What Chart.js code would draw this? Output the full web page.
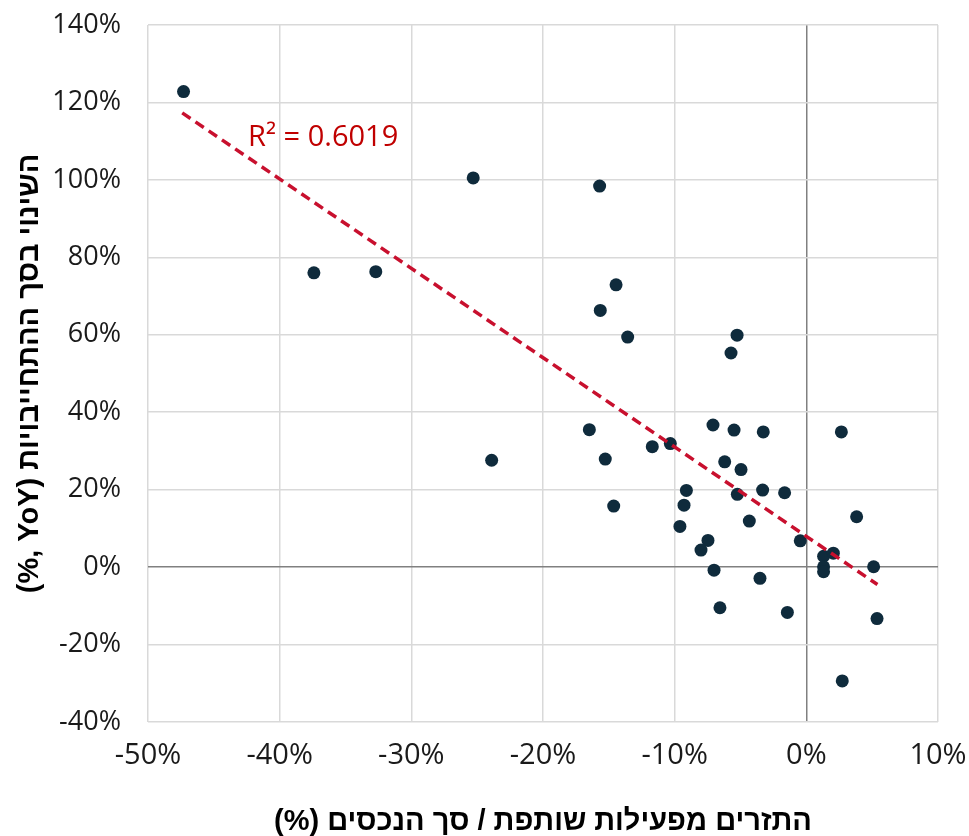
<!DOCTYPE html>
<html>
<head>
<meta charset="utf-8">
<script src="https://cdn.jsdelivr.net/npm/chart.js@4.4.0/dist/chart.umd.min.js"></script>
<style>
  html, body { margin: 0; padding: 0; background: #fff; }
  #wrap { width: 969px; height: 836px; position: relative; }
</style>
</head>
<body>
<div id="wrap"><canvas id="scatterChart"></canvas></div>
<script>
// Data (both axes in %)
const flowToAssets = [
    -47.3, -37.4, -32.7, -25.3, -23.9, -15.7, -14.45, -15.65, -13.57, -5.26, -5.72,
    -16.48, -15.27, -14.63, -11.7, -10.33, -7.09, -5.49, -3.27, -6.2, -4.96,
    -9.11, -9.29, -9.6, -5.24, -3.32, -1.65, -4.33, -7.47, -8.0, -0.46,
    -7.01, -3.52, -6.56, -1.44, 2.66, 3.82, 1.31, 2.05, 1.31, 1.31, 5.11, 5.37, 2.73
];
const liabilitiesChange = [
    122.8, 76.0, 76.3, 100.5, 27.6, 98.4, 72.9, 66.3, 59.4, 59.9, 55.3,
    35.5, 27.9, 15.75, 31.1, 31.9, 36.7, 35.4, 34.9, 27.2, 25.2,
    19.8, 16.0, 10.5, 18.8, 19.9, 19.2, 11.9, 6.9, 4.4, 6.8,
    -0.8, -2.9, -10.5, -11.7, 34.9, 13.0, 2.8, 3.6, 0.1, -1.2, 0.1, -13.3, -29.4
];

// Excel linear trendline, end points
const trendX = [-47.4, 5.4];
const trendY = [117.3, -4.5];
const rSquaredText = 'R² = 0.6019';
const rSquaredAt = [-42.4, 110.8];

const xTicks = [-50, -40, -30, -20, -10, 0, 10];
const yTicks = [-40, -20, 0, 20, 40, 60, 80, 100, 120, 140];

const xTitle = 'התזרים מפעילות שותפת / סך הנכסים (%)';
const yTitle = 'השינוי בסך ההתחייבויות (YoY ,%)';

// wrap Hebrew titles in an RTL embedding so the brackets land on the right side
const rtl = (s) => '\u202B' + s + '\u202C';

const points = flowToAssets.map((x, i) => ({ x: x, y: liabilitiesChange[i] }));
const trendPoints = trendX.map((x, i) => ({ x: x, y: trendY[i] }));

const gridColor = (ctx) => (ctx.tick && ctx.tick.value === 0 ? '#808080' : '#d9d9d9');

// draws the R² label at a data position
const r2Label = {
    id: 'r2Label',
    afterDatasetsDraw(chart) {
        const { ctx, scales } = chart;
        ctx.save();
        ctx.font = '29px "Open Sans", sans-serif';
        ctx.fillStyle = '#c00000';
        ctx.textAlign = 'left';
        ctx.textBaseline = 'middle';
        ctx.fillText(rSquaredText, scales.x.getPixelForValue(rSquaredAt[0]), scales.y.getPixelForValue(rSquaredAt[1]));
        ctx.restore();
    }
};

const ctx = document.getElementById('scatterChart').getContext('2d');
new Chart(ctx, {
    type: 'scatter',
    data: {
        datasets: [
            {
                type: 'line',
                label: 'trend',
                data: trendPoints,
                borderColor: '#c8102e',
                borderWidth: 3.5,
                borderDash: [10, 6],
                pointRadius: 0,
                fill: false,
                order: 0
            },
            {
                label: 'points',
                data: points,
                backgroundColor: '#0f2b3c',
                borderWidth: 0,
                pointRadius: 6.5,
                pointHoverRadius: 6.5,
                order: 1
            }
        ]
    },
    options: {
        responsive: true,
        maintainAspectRatio: false,
        animation: false,
        layout: { padding: { left: 0, right: 31, top: 25, bottom: 0 } },
        plugins: {
            legend: { display: false },
            tooltip: { enabled: false }
        },
        scales: {
            x: {
                type: 'linear',
                min: xTicks[0],
                max: xTicks[xTicks.length - 1],
                afterBuildTicks: (axis) => { axis.ticks = xTicks.map(v => ({ value: v })); },
                // fixed height, and no extra side padding from the end labels
                afterFit: (axis) => { axis.height = 114; axis.paddingLeft = 0; axis.paddingRight = 0; },
                border: { display: false },
                grid: { color: gridColor, lineWidth: 1.5, drawTicks: false },
                ticks: {
                    color: '#1a1a1a',
                    font: { family: '"Open Sans", sans-serif', size: 29 },
                    padding: 16,
                    maxRotation: 0,
                    callback: (v) => v + '%'
                },
                title: {
                    display: true,
                    text: rtl(xTitle),
                    color: '#000',
                    font: { family: '"Liberation Sans", Arial, sans-serif', size: 29, weight: 'bold', lineHeight: 1 },
                    padding: { top: 0, bottom: 0 }
                }
            },
            y: {
                type: 'linear',
                min: yTicks[0],
                max: yTicks[yTicks.length - 1],
                afterBuildTicks: (axis) => { axis.ticks = yTicks.map(v => ({ value: v })); },
                afterFit: (axis) => { axis.width = 148; axis.paddingTop = 0; axis.paddingBottom = 0; },
                border: { display: false },
                grid: { color: gridColor, lineWidth: 1.5, drawTicks: false },
                ticks: {
                    color: '#1a1a1a',
                    font: { family: '"Open Sans", sans-serif', size: 27 },
                    padding: 27,
                    callback: (v) => v + '%'
                },
                title: {
                    display: true,
                    text: rtl(yTitle),
                    color: '#000',
                    font: { family: '"Liberation Sans", Arial, sans-serif', size: 29, weight: 'bold', lineHeight: 1 },
                    padding: { top: 15, bottom: 0 }
                }
            }
        }
    },
    plugins: [r2Label]
});
</script>
</body>
</html>
